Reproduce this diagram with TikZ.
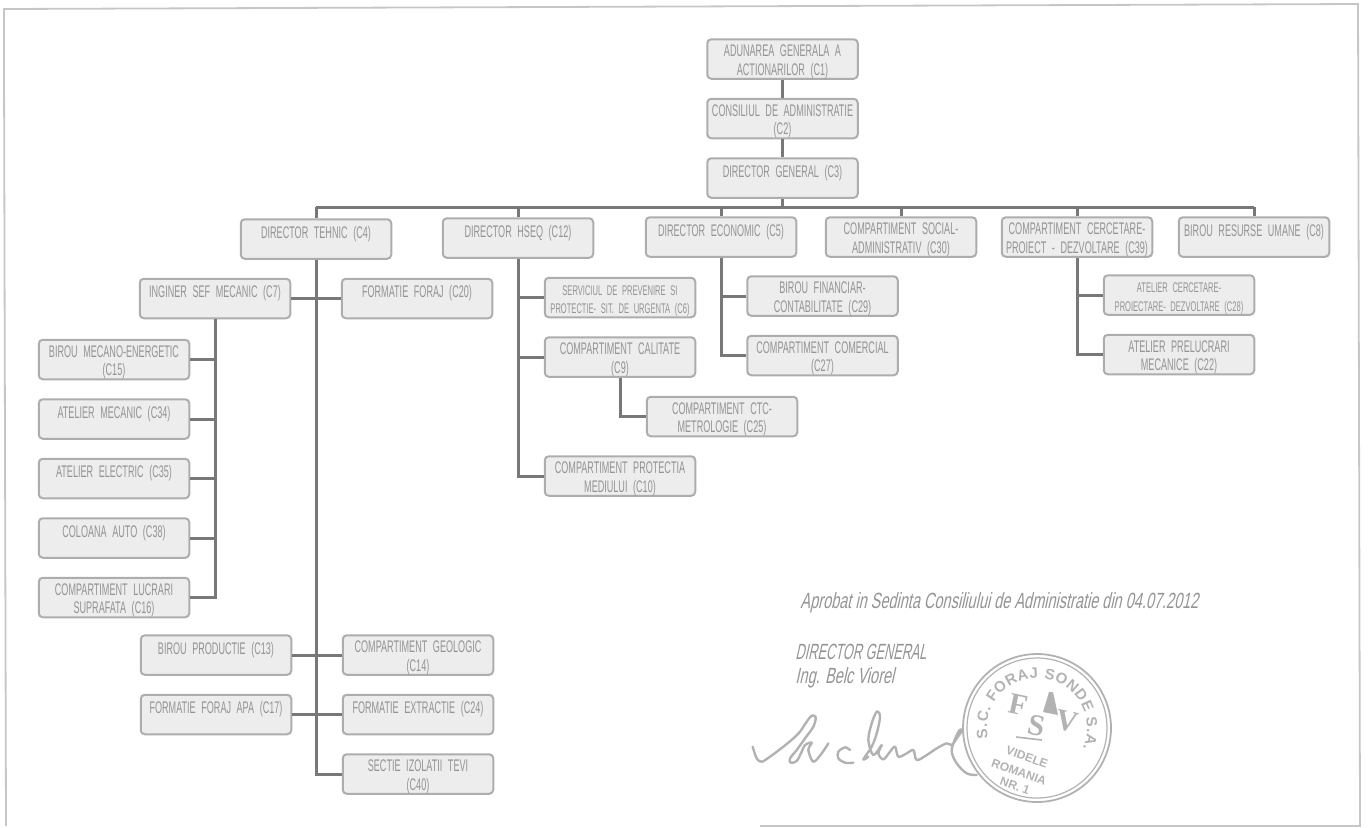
\documentclass[tikz,border=0pt]{standalone}
\usepackage{fontspec}
\setmainfont[FakeStretch=0.54]{Liberation Sans}
\newfontfamily\signfont[FakeStretch=0.66,FakeSlant=0.22]{Liberation Sans}
\newfontfamily\signcaps[FakeStretch=0.58,FakeSlant=0.22]{Liberation Sans}
\newfontfamily\stampfont{Liberation Sans}
\newfontfamily\logofont{Liberation Serif}
\usetikzlibrary{positioning,decorations.text}
\definecolor{boxfill}{gray}{0.93}
\definecolor{boxline}{gray}{0.68}
\definecolor{boxtext}{gray}{0.58}
\definecolor{linkline}{gray}{0.47}
\definecolor{inkline}{gray}{0.7}
\tikzset{
  dept/.style={draw=boxline, fill=boxfill, line width=1pt, rounded corners=2pt,
    minimum width=75.25pt, minimum height=19.75pt, text width=75.25pt, inner sep=0pt,
    align=center, text=boxtext, font=\fontsize{8.4}{9.25}\selectfont,
    execute at begin node={\rule{0pt}{8.6pt}}},
  small/.style={font=\fontsize{7}{9.25}\selectfont},
  link/.style={draw=linkline, line width=1.5pt},
  sign/.style={text=boxtext, inner sep=0pt, anchor=west, font=\signfont\fontsize{11}{12}\selectfont},
  stamp/.style={text=inkline, inner sep=0pt, rotate=-20, font=\stampfont\bfseries\fontsize{6}{7}\selectfont},
  logo/.style={text=inkline, inner sep=0pt, rotate=-12, font=\logofont\bfseries\fontsize{15}{15}\selectfont},
  ink/.style={inkline, line width=1.2pt, line cap=round, line join=round},
}
\begin{document}
\begin{tikzpicture}[x=0.5pt, y=-0.5pt, node distance=9pt]
  \useasboundingbox (0,0) rectangle (1368,827);

  % Frame
  \draw[gray!45, line width=0.9pt] (4,60) -- (4,9) -- (1358,4) -- (1360,826) -- (760,826);
  \draw[gray!45, line width=0.9pt] (4,60) -- (6,826);

  % Define nodes
  \node[dept] (c1) at (782.5,59) {ADUNAREA GENERALA A\\ACTIONARILOR (C1)};
  \node[dept, below=of c1] (c2) {CONSILIUL DE ADMINISTRATIE\\(C2)};
  \node[dept, below=of c2] (c3) {DIRECTOR GENERAL (C3)\\~};

  \coordinate (bus) at (0,207);
  \node[dept] (c4) at (316,239) {DIRECTOR TEHNIC (C4)\\~};
  \node[dept, right=24.75pt of c4, yshift=0.5pt] (c12) {DIRECTOR HSEQ (C12)\\~};
  \node[dept, right=25.25pt of c12, yshift=0.5pt] (c5) {DIRECTOR ECONOMIC (C5)\\~};
  \node[dept, right=13.75pt of c5] (c30) {COMPARTIMENT SOCIAL-\\ADMINISTRATIV (C30)};
  \node[dept, right=11.75pt of c30] (c39) {COMPARTIMENT CERCETARE-\\PROIECT - DEZVOLTARE (C39)};
  \node[dept, right=12.25pt of c39] (c8) {BIROU RESURSE UMANE (C8)\\~};

  \node[dept] (c7) at (215,298.5) {INGINER SEF MECANIC (C7)\\~};
  \node[dept] (c20) at (417,298.5) {FORMATIE FORAJ (C20)\\~};
  \node[dept] (c15) at (114,359.5) {BIROU MECANO-ENERGETIC\\(C15)};
  \node[dept, below=of c15] (c34) {ATELIER MECANIC (C34)\\~};
  \node[dept, below=of c34] (c35) {ATELIER ELECTRIC (C35)\\~};
  \node[dept, below=of c35] (c38) {COLOANA AUTO (C38)\\~};
  \node[dept, below=of c38] (c16) {COMPARTIMENT LUCRARI\\SUPRAFATA (C16)};

  \node[dept] (c13) at (216,655) {BIROU PRODUCTIE (C13)\\~};
  \node[dept, below=of c13] (c17) {FORMATIE FORAJ APA (C17)\\~};
  \node[dept] (c14) at (418,655) {COMPARTIMENT GEOLOGIC\\(C14)};
  \node[dept, below=of c14] (c24) {FORMATIE EXTRACTIE (C24)\\~};
  \node[dept, below=of c24] (c40) {SECTIE IZOLATII TEVI\\(C40)};

  \node[dept, small] (c6) at (620,297.5) {SERVICIUL DE PREVENIRE SI\\PROTECTIE- SIT. DE URGENTA (C6)};
  \node[dept, below=of c6] (c9) {COMPARTIMENT CALITATE\\(C9)};
  \node[dept, below=of c9, xshift=51pt] (c25) {COMPARTIMENT CTC-\\METROLOGIE (C25)};
  \node[dept, below=of c9, yshift=-29.75pt] (c10) {COMPARTIMENT PROTECTIA\\MEDIULUI (C10)};

  \node[dept] (c29) at (822.5,296) {BIROU FINANCIAR-\\CONTABILITATE (C29)};
  \node[dept, below=of c29] (c27) {COMPARTIMENT COMERCIAL\\(C27)};

  \node[dept, small] (c28) at (1179,295) {ATELIER CERCETARE-\\PROIECTARE- DEZVOLTARE (C28)};
  \node[dept, below=of c28] (c22) {ATELIER PRELUCRARI\\MECANICE (C22)};

  % Connect the nodes
  \draw[link] (c1) -- (c2);
  \draw[link] (c2) -- (c3);
  \draw[link] (c3.south) -- (c3.south |- bus);
  \draw[link] (c4.north |- bus) -- (c8.north |- bus);
  \foreach \n in {c4,c12,c5,c30,c39,c8}
    \draw[link] (\n.north) -- (\n.north |- bus);

  \foreach \n in {c15,c34,c35,c38,c16}
    \draw[link] (\n.east) -| (c7.south);
  \draw[link] (c40.west) -| (c4.south);
  \draw[link] (c7) -- (c20);
  \draw[link] (c13) -- (c14);
  \draw[link] (c17) -- (c24);

  \foreach \n in {c6,c9,c10}
    \draw[link] (\n.west) -| (c12.south);
  \draw[link] (c25.west) -| (c9.south);
  \foreach \n in {c29,c27}
    \draw[link] (\n.west) -| (c5.south);
  \foreach \n in {c28,c22}
    \draw[link] (\n.west) -| (c39.south);

  % Approval text
  \node[sign] (aprobat) at (800,603) {Aprobat in Sedinta Consiliului de Administratie din 04.07.2012};
  \node[sign, font=\signcaps\fontsize{11}{12}\selectfont] (dirgen) at (795,652) {DIRECTOR GENERAL};
  \node[sign] (ing) at (795,678) {Ing. Belc Viorel};

  % Signature
  \begin{scope}[shift={(750,700)}, x=0.1667pt, y=-0.1667pt]
    \draw[ink] plot[smooth, tension=0.55] coordinates {
      (8,140) (20,175) (35,185) (60,170) (100,140) (130,115) (150,95) (170,65) (185,47)
      (197,52) (190,80) (165,115) (140,150) (120,175) (122,188) (140,183) (155,155)
      (165,135) (185,128) (175,150) (190,185) (215,160) (235,130)};
    \draw[ink] plot[smooth, tension=0.55] coordinates {
      (300,150) (285,142) (265,155) (265,175) (285,188) (310,188)};
    \draw[ink] plot[smooth, tension=0.55] coordinates {
      (355,170) (340,178) (365,140) (380,100) (390,50) (380,35) (365,70) (355,120) (370,165)
      (395,135) (385,160) (400,178) (420,155) (435,140) (445,170) (470,160) (490,150)
      (500,180) (530,165) (560,145) (590,130) (605,135) (620,115) (637,90) (625,95)
      (605,150) (620,190) (650,220) (680,225)};
  \end{scope}

  % Stamp
  \coordinate (seal) at (1037,728);
  \draw[inkline, line width=0.9pt] (seal) circle[radius=74];
  \draw[inkline, line width=0.6pt] (seal) circle[radius=70];
  \begin{scope}[shift={(1037,728)}, y=0.5pt]
    \path[decorate, decoration={text along path, text align={fit to path},
      text={|\stampfont\bfseries\fontsize{7.5}{8}\selectfont\color{inkline}|S.C. FORAJ SONDE S.A.}}]
      (192:50) arc[start angle=192, end angle=-24, radius=50];
  \end{scope}
  \node[logo] (logof) at (1018,705) {F};
  \node[logo] (logov) at (1067,721) {V};
  \node[logo] (logos) at (1037,726) {S};
  \fill[inkline] (1049,692) -- (1053,692) -- (1058,715) -- (1043,712) -- cycle;
  \draw[inkline, line width=0.8pt] (1016,737) -- (1042,740);
  \node[stamp] (videle) at (1027,757) {VIDELE};
  \node[stamp] (romania) at (1019,772) {ROMANIA};
  \node[stamp] (nr) at (1015,786) {NR. 1};

\end{tikzpicture}
\end{document}
